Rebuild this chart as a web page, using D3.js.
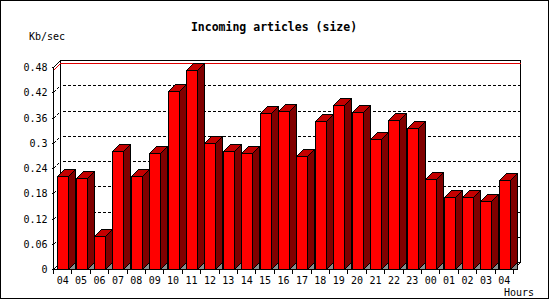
<!DOCTYPE html>
<html><head><meta charset="utf-8">
<script src="https://cdn.jsdelivr.net/npm/d3@7"></script>
<style>
html,body{margin:0;padding:0;background:#fff;}
svg{display:block;}
text{font-family:"DejaVu Sans Mono",monospace;}
path,line,rect{shape-rendering:crispEdges;}
</style></head>
<body>
<svg id="c" width="550" height="300"></svg>
<script>
const hours = ["04","05","06","07","08","09","10","11","12","13","14","15","16","17","18","19","20","21","22","23","00","01","02","03","04"];
const values = [0.221,0.216,0.079,0.281,0.221,0.275,0.424,0.473,0.300,0.281,0.275,0.370,0.376,0.269,0.351,0.389,0.372,0.308,0.353,0.334,0.213,0.171,0.171,0.162,0.211];
const yTicks = [0,0.06,0.12,0.18,0.24,0.3,0.36,0.42,0.48];
const title = "Incoming articles (size)";
const yTitle = "Kb/sec";
const xTitle = "Hours";

const svg = d3.select("#c");
const DX = 7, DY = 7;
const idx = d3.range(hours.length);
const x = d3.scaleBand().domain(idx).range([53.5, 513.5]).paddingInner(0.4).paddingOuter(0.2);
const xb = d3.scaleLinear().domain([0, hours.length]).range([53.5, 513.5]);
const y = d3.scaleLinear().domain([0, 0.48]).range([269.5, 67.5]);
const py = v => Math.round(y(v) - 0.5) + 0.5;
const px = i => Math.round(xb(i) - 0.5) + 0.5;

// outer frame
svg.append("rect").attr("x",0.5).attr("y",0.5).attr("width",548).attr("height",298)
  .attr("fill","#fff").attr("stroke","#000").attr("stroke-width",1.5);

// title texts
svg.append("text").attr("x",274).attr("y",31).attr("text-anchor","middle")
  .attr("font-size","11.5px").attr("font-weight","bold").text(title);
svg.append("text").attr("x",29).attr("y",40).attr("font-size","10px").text(yTitle);
svg.append("text").attr("x",534).attr("y",296).attr("text-anchor","end").attr("font-size","10px").text(xTitle);

const x0 = px(0), x1 = px(hours.length);
const yb = py(0), yt = py(0.48);

// back wall
svg.append("rect").attr("x",x0+DX).attr("y",yt-DY).attr("width",x1-x0).attr("height",yb-yt)
  .attr("fill","#fff").attr("stroke","#000");

// grid lines (back wall + left wall diagonal)
const gridVals = yTicks.filter(v => v > 0 && v < 0.48);
const g = svg.append("g").attr("stroke","#000").attr("stroke-dasharray","3,2").attr("fill","none");
gridVals.forEach(v => {
  g.append("line").attr("x1",x0+DX+2).attr("x2",x1+DX).attr("y1",py(v)-DY).attr("y2",py(v)-DY);
  g.append("line").attr("x1",x0).attr("x2",x0+DX).attr("y1",py(v)).attr("y2",py(v)-DY);
});

// max value line (red)
const vmax = d3.max(values);
svg.append("path").attr("fill","none").attr("stroke","#e00000")
  .attr("d",`M${x0},${py(vmax)}L${x0+DX},${py(vmax)-DY}L${x1+DX},${py(vmax)-DY}`);

// floor edges
svg.append("path").attr("fill","none").attr("stroke","#000")
  .attr("d",`M${x0},${yb}L${x0+DX},${yb-DY}M${x1},${yb}L${x1+DX},${yb-DY}M${x0},${yt}L${x0+DX},${yt-DY}`);

// bars
const bars = svg.append("g").attr("stroke","#000").attr("stroke-width",1).attr("stroke-linejoin","miter");
idx.forEach(i => {
  const bx = Math.round(x(i)) + 0.5, bw = Math.round(x.bandwidth());
  const top = py(values[i]);
  const r = bx + bw;
  bars.append("path").attr("fill","#8c8c8c")
    .attr("d",`M${r},${yb}L${r+DX},${yb}L${r+DX},${yb-DY}Z`);
  bars.append("path").attr("fill","#800000")
    .attr("d",`M${r},${yb}L${r},${top}L${r+DX},${top-DY}L${r+DX},${yb-DY}Z`);
  bars.append("path").attr("fill","#c40000")
    .attr("d",`M${bx},${top}L${bx+DX},${top-DY}L${r+DX},${top-DY}L${r},${top}Z`);
  bars.append("rect").attr("x",bx).attr("y",top).attr("width",bw).attr("height",yb-top).attr("fill","#ff0000");
});

// y axis
const ya = d3.axisLeft(y).tickValues(yTicks).tickSize(2).tickPadding(4)
  .tickFormat(d => String(+d.toFixed(2)));
const yg = svg.append("g").attr("transform",`translate(${x0},0)`).call(ya);
yg.select(".domain").attr("d",`M0,${yt}V${yb}`).attr("stroke","#000");
yg.selectAll(".tick").attr("transform", d => `translate(0,${py(d)})`);
yg.selectAll("text").attr("font-family","DejaVu Sans Mono").attr("font-size","10px").attr("fill","#000");

// x axis boundary ticks
const xa = d3.axisBottom(xb).tickValues(d3.range(hours.length+1)).tickSize(4).tickFormat("");
const xg = svg.append("g").attr("transform",`translate(0,${yb})`).call(xa);
xg.select(".domain").attr("d",`M${x0},0H${x1}`).attr("stroke","#000");
xg.selectAll(".tick").attr("transform", d => `translate(${px(d)},0)`);
// x labels
const xl = d3.axisBottom(x).tickSize(0).tickPadding(7).tickFormat(i => hours[i]);
const xlg = svg.append("g").attr("transform",`translate(0,${yb})`).call(xl);
xlg.select(".domain").remove();
xlg.selectAll("text").attr("font-family","DejaVu Sans Mono").attr("font-size","10px").attr("fill","#000");
</script>
</body></html>
